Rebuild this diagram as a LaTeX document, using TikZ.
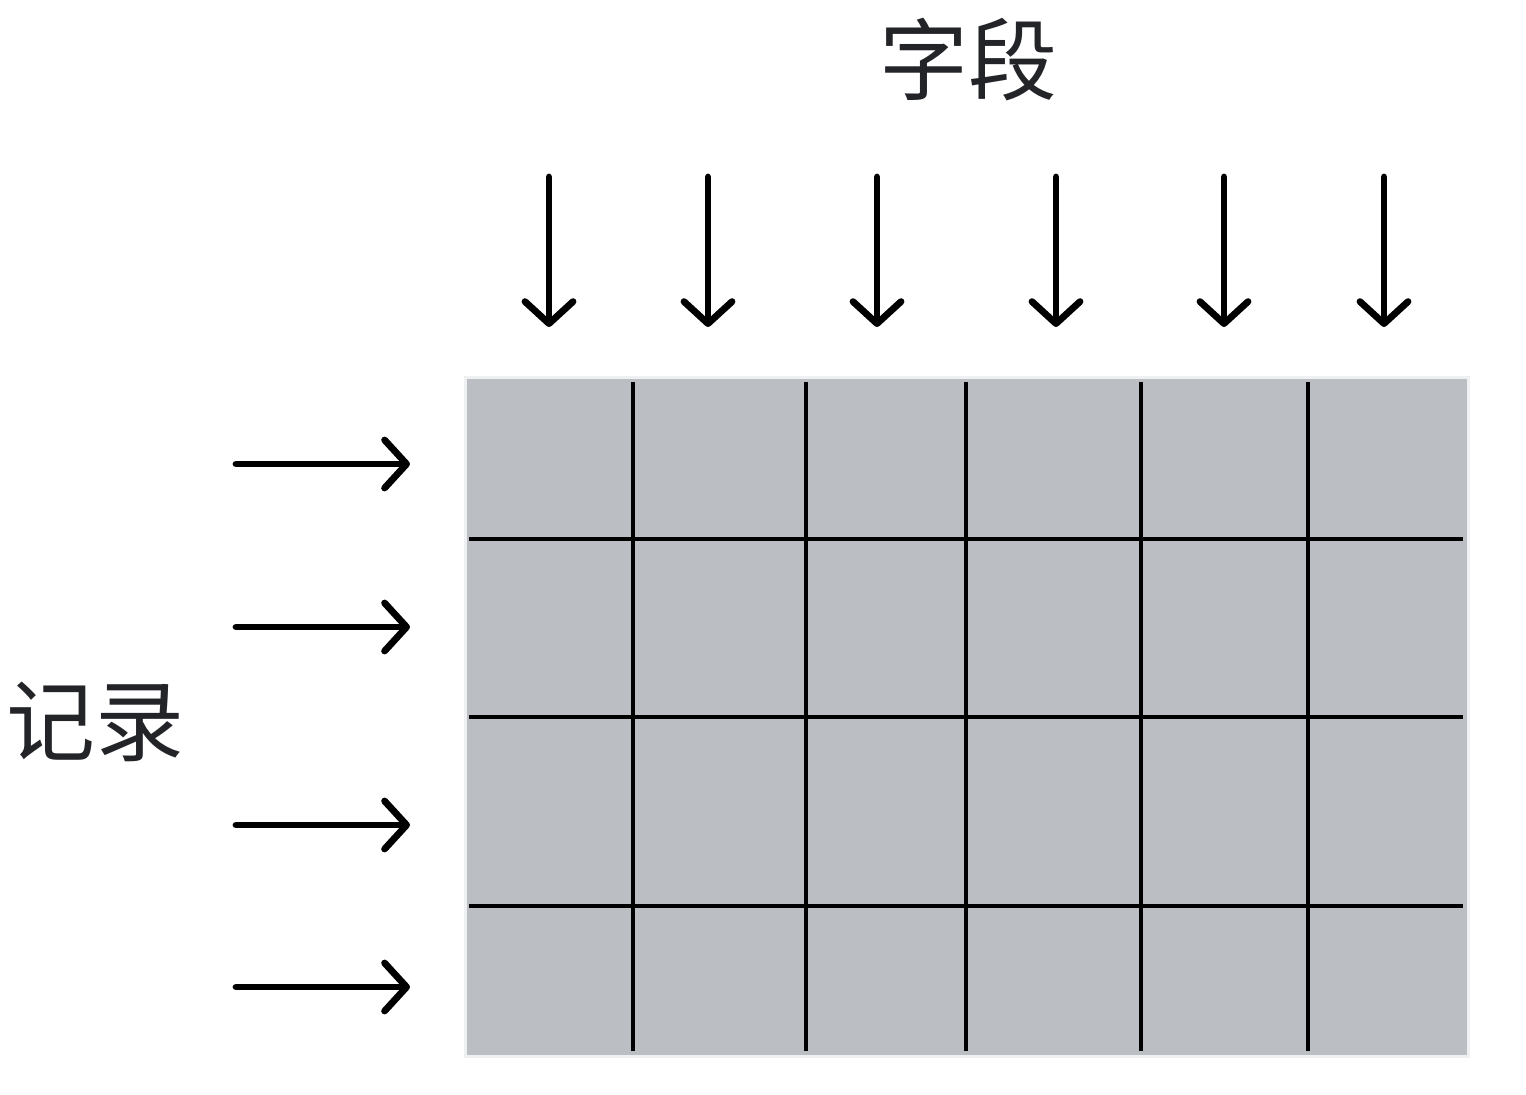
\documentclass[tikz,border=0pt]{standalone}
\usepackage{fontspec}
\newfontfamily\cjk{Noto Sans CJK SC}
\usetikzlibrary{arrows.meta}
\definecolor{cellgray}{HTML}{BBBEC3}
\definecolor{edgegray}{HTML}{EEF0F2}
\definecolor{txt}{HTML}{222428}
\tikzset{
  flow/.style={line width=3.4pt, line cap=round, -{Straight Barb[length=11pt,width=24pt,line cap=round,line join=round]}},
  gridline/.style={line width=1.7pt, black},
  lbl/.style={font=\cjk\fontsize{44.5}{52}\selectfont, text=txt, inner sep=0pt}
}
\begin{document}
\begin{tikzpicture}[x=0.5pt,y=-0.5pt]
\useasboundingbox (0,0) rectangle (1526,1094);
\fill[white] (0,0) rectangle (1526,1094);
% table
\draw[fill=cellgray, draw=edgegray, line width=1.5pt] (465,377) rectangle (1468,1056);
\foreach \x in {633,806,966,1141,1308}{
  \draw[gridline] (\x,382) -- (\x,1051);
}
\foreach \y in {539,717,906}{
  \draw[gridline] (469,\y) -- (1463,\y);
}
% labels
\node[lbl] (fields) at (968,60) {字段};
\node[lbl] (records) at (95,722) {记录};
% top arrows
\foreach \i/\x in {1/549,2/708,3/877,4/1056,5/1224,6/1384}{
  \coordinate (ts\i) at (\x,177);
  \coordinate (te\i) at (\x,327);
  \draw[flow] (ts\i) -- (te\i);
}
% left arrows
\foreach \i/\y in {1/464,2/627,3/825,4/987}{
  \coordinate (ls\i) at (236,\y);
  \coordinate (le\i) at (410,\y);
  \draw[flow] (ls\i) -- (le\i);
}
\end{tikzpicture}
\end{document}
